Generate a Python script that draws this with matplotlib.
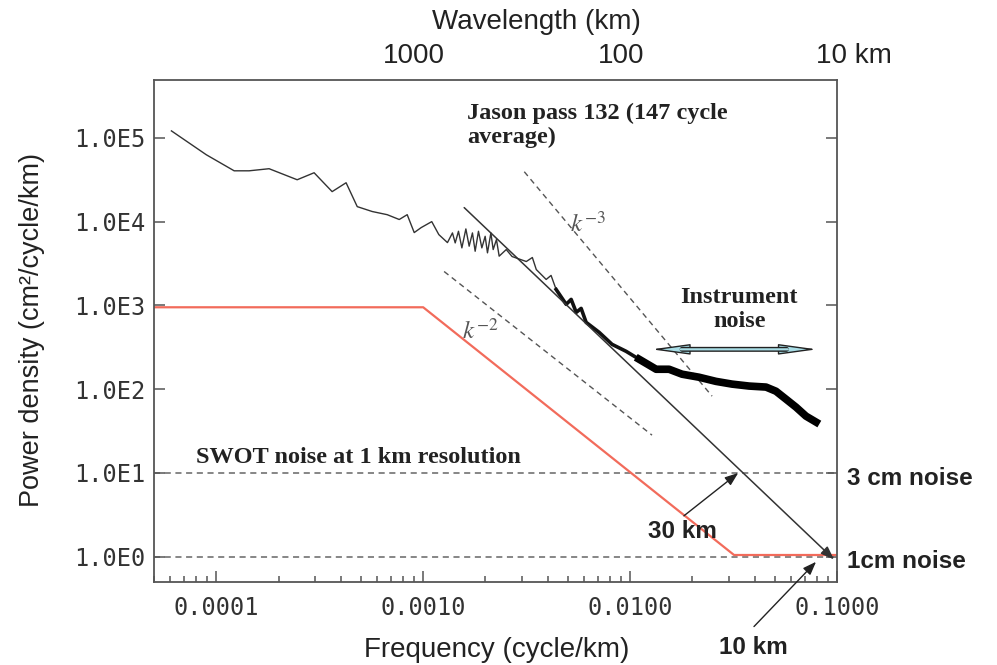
import numpy as np
import matplotlib
matplotlib.use('Agg')
import matplotlib.pyplot as plt
from matplotlib.ticker import NullLocator
from matplotlib.transforms import ScaledTranslation

# ---------------- data ----------------
spec_freq = [6.07e-5, 8.95e-5, 1.22e-4, 1.44e-4, 1.80e-4, 2.46e-4, 2.97e-4, 3.63e-4,
             4.24e-4, 4.80e-4, 5.67e-4, 6.70e-4, 7.66e-4, 8.37e-4, 9.05e-4, 9.78e-4,
             1.10e-3, 1.19e-3, 1.31e-3,
             1.385e-3, 1.428e-3, 1.481e-3, 1.538e-3, 1.608e-3, 1.668e-3, 1.730e-3,
             1.783e-3, 1.850e-3, 1.921e-3, 1.993e-3, 2.045e-3, 2.124e-3, 2.179e-3,
             2.260e-3, 2.329e-3,
             2.52e-3, 2.69e-3, 3.15e-3, 3.37e-3, 3.52e-3, 3.93e-3, 4.15e-3, 4.39e-3,
             4.91e-3, 5.19e-3, 5.49e-3, 5.80e-3, 6.13e-3, 7.08e-3, 8.18e-3, 9.57e-3,
             1.105e-2, 1.336e-2, 1.543e-2, 1.783e-2, 2.153e-2, 2.60e-2, 3.11e-2,
             3.76e-2, 4.54e-2, 5.07e-2, 5.67e-2, 6.34e-2, 7.08e-2, 7.92e-2]
spec_power = [1.21e5, 6.28e4, 4.04e4, 4.04e4, 4.28e4, 3.16e4, 3.83e4, 2.28e4,
              2.91e4, 1.51e4, 1.32e4, 1.21e4, 1.06e4, 1.21e4, 7.40e3, 8.49e3,
              1.0e4, 7.0e3, 5.62e3,
              7.33e3, 5.57e3, 7.67e3, 4.86e3, 8.18e3, 5.09e3, 7.33e3,
              4.43e3, 7.67e3, 4.86e3, 6.68e3, 4.24e3, 7.33e3, 4.64e3,
              6.11e3, 3.87e3,
              4.64e3, 3.83e3, 3.34e3, 3.73e3, 2.68e3, 2.04e3, 2.28e3, 1.55e3,
              1.03e3, 1.18e3, 826, 921, 628, 478, 343, 283,
              228, 173, 173, 151, 139, 124, 115,
              109, 106, 94.6, 76, 61, 47.7, 40.5]

swot_freq = [5e-5, 1.0e-3, 3.18e-2, 0.1]
swot_power = [950, 950, 1.05, 1.05]

fit_freq = [1.578e-3, 0.0967]
fit_power = [1.47e4, 0.93]

k2_freq = [1.262e-3, 1.276e-2]
k2_power = [2.54e3, 28.3]
k3_freq = [3.08e-3, 2.49e-2]
k3_power = [3.94e4, 82.6]

noise_levels = [10, 1]

instr_freq = [1.27e-2, 8.0e-2]
instr_power = 299

x_ticks = [1e-4, 1e-3, 1e-2, 1e-1]
x_ticklabels = ['0.0001', '0.0010', '0.0100', '0.1000']
y_ticks = [1, 10, 100, 1000, 1e4, 1e5]
y_ticklabels = ['1.0E0', '1.0E1', '1.0E2', '1.0E3', '1.0E4', '1.0E5']
top_wavelengths = [10000, 1000, 100, 10]
top_ticklabels = ['', '1000', '100', '10 km']

# ---------------- figure ----------------
W, H = 997, 665
fig = plt.figure(figsize=(W / 100, H / 100), dpi=100)
ax = fig.add_axes([154 / W, 1 - 582 / H, (837 - 154) / W, (582 - 80) / H])
ax.set_xscale('log')
ax.set_yscale('log')
ax.set_xlim(5e-5, 0.1)
ax.set_ylim(0.5, 4.9e5)

sans = ['Liberation Sans', 'DejaVu Sans']
serif = ['Liberation Serif', 'DejaVu Serif']
mono = ['DejaVu Sans Mono']
plt.rcParams['mathtext.fontset'] = 'stix'

frame_col = '#555555'
for s in ax.spines.values():
    s.set_color(frame_col)
    s.set_linewidth(1.3)

ax.set_xticks(x_ticks)
ax.set_xticklabels(x_ticklabels, family=mono, fontsize=17, color='#333333')
ax.set_yticks(y_ticks)
ax.set_yticklabels(y_ticklabels, family=mono, fontsize=17, color='#333333')
ax.yaxis.set_minor_locator(NullLocator())
ax.tick_params(which='both', direction='in', top=True, right=True, color=frame_col, width=1.1)
ax.tick_params(which='major', length=8)
ax.tick_params(which='minor', length=4)
ax.tick_params(axis='x', pad=10)
ax.tick_params(axis='y', pad=6)

# top axis labels (wavelength)
ax2 = ax.twiny()
ax2.set_xscale('log')
ax2.set_xlim(ax.get_xlim())
ax2.set_xticks(1.0 / np.array(top_wavelengths, dtype=float))
ax2.set_xticklabels(top_ticklabels, family=sans, fontsize=20, color='#222222')
ax2.xaxis.set_minor_locator(NullLocator())
ax2.tick_params(which='both', length=0, pad=8)
for s in ax2.spines.values():
    s.set_visible(False)
offsets = [0, -9, -9, 17]
for lab, dx in zip(ax2.get_xticklabels(), offsets):
    lab.set_transform(lab.get_transform() + ScaledTranslation(dx / 100, 0, fig.dpi_scale_trans))

# noise level dashed lines
for lvl in noise_levels:
    ax.axhline(lvl, color='#666666', lw=1.1, dashes=(4, 3), zorder=1)

# SWOT red curve
ax.plot(swot_freq, swot_power, color='#f26b5b', lw=1.6, zorder=2)

# reference slopes
ax.plot(k2_freq, k2_power, color='#555555', lw=1.0, dashes=(4, 3), zorder=2)
ax.plot(k3_freq, k3_power, color='#555555', lw=1.0, dashes=(4, 3), zorder=2)

# Jason spectrum
sf = np.array(spec_freq)
sp = np.array(spec_power)
ax.plot(sf, sp, color='#333333', lw=1.0, zorder=3)
m1 = sf >= 4.3e-3
ax.plot(sf[m1], sp[m1], color='#111111', lw=2.6, zorder=3, solid_joinstyle='round')
m2 = sf >= 1.0e-2
ax.plot(sf[m2], sp[m2], color='#000000', lw=5.5, zorder=3, solid_joinstyle='round')

# fitted straight line with arrowhead
ax.annotate('', xy=(fit_freq[1], fit_power[1]), xytext=(fit_freq[0], fit_power[0]),
            arrowprops=dict(arrowstyle='-|>,head_length=0.8,head_width=0.3', color='#333333',
                            lw=1.1, shrinkA=0, shrinkB=0), zorder=4)

# instrument noise double arrow: heads, then outlined light-blue shaft
ax.annotate('', xy=(instr_freq[1], instr_power), xytext=(instr_freq[0], instr_power),
            arrowprops=dict(arrowstyle='<|-|>,head_length=2.4,head_width=0.33',
                            facecolor='#a8dde6', edgecolor='#222222', lw=1.0,
                            shrinkA=0, shrinkB=0), zorder=5)
ax.annotate('', xy=(instr_freq[1], instr_power), xytext=(instr_freq[0], instr_power),
            arrowprops=dict(arrowstyle='-', color='#222222', lw=3.6,
                            shrinkA=22, shrinkB=22), zorder=6)
ax.annotate('', xy=(instr_freq[1], instr_power), xytext=(instr_freq[0], instr_power),
            arrowprops=dict(arrowstyle='-', color='#a8dde6', lw=1.6,
                            shrinkA=21, shrinkB=21), zorder=7)

# 30 km / 10 km arrows
ax.annotate('', xy=(0.0333, 10), xytext=(1.82e-2, 3.08),
            arrowprops=dict(arrowstyle='-|>,head_length=0.8,head_width=0.3', color='#222222',
                            lw=1.0, shrinkA=0, shrinkB=0), zorder=5)
ax.annotate('', xy=(7.92e-2, 0.871), xytext=(3.97e-2, 0.147), annotation_clip=False,
            arrowprops=dict(arrowstyle='-|>,head_length=0.8,head_width=0.3', color='#222222',
                            lw=1.0, shrinkA=0, shrinkB=0, clip_on=False), zorder=5)

# annotation texts
bold_serif = dict(family=serif, fontweight='bold', fontsize=17.5, color='#222222')
ax.text(1.633e-3, 2.65e5, 'Jason pass 132 (147 cycle\naverage)', ha='left', va='top',
        linespacing=1.2, **bold_serif)
ax.text(3.37e-2, 895, 'Instrument\nnoise', ha='center', va='center', linespacing=1.15, **bold_serif)
ax.text(8.0e-5, 15.1, 'SWOT noise at 1 km resolution', ha='left', va='center', **bold_serif)
ax.text(6.27e-3, 9.2e3, r'$k^{-3}$', ha='center', va='center', fontsize=18, color='#555555')
ax.text(1.884e-3, 490, r'$k^{-2}$', ha='center', va='center', fontsize=18, color='#555555')

bold_sans = dict(family=sans, fontweight='bold', fontsize=17.5, color='#222222')
ax.text(1.80e-2, 1.99, '30 km', ha='center', va='center', **bold_sans)
ax.text(3.93e-2, 0.0826, '10 km', ha='center', va='center', clip_on=False, **bold_sans)
ax.text(1.0146, 8.6, '3 cm noise', transform=ax.get_yaxis_transform(), ha='left', va='center',
        clip_on=False, **bold_sans)
ax.text(1.0146, 0.87, '1cm noise', transform=ax.get_yaxis_transform(), ha='left', va='center',
        clip_on=False, **bold_sans)

# axis titles
fig.text(536 / W, 1 - 22 / H, 'Wavelength (km)', ha='center', va='center', family=sans,
         fontsize=20, color='#222222')
fig.text(497 / W, 1 - 663 / H, 'Frequency (cycle/km)', ha='center', va='bottom', family=sans,
         fontsize=20, color='#222222')
fig.text(32 / W, 1 - 330 / H, 'Power density (cm²/cycle/km)', ha='center', va='center',
         rotation=90, family=sans, fontsize=19.5, color='#222222')

fig.savefig('out.png', dpi=100)
